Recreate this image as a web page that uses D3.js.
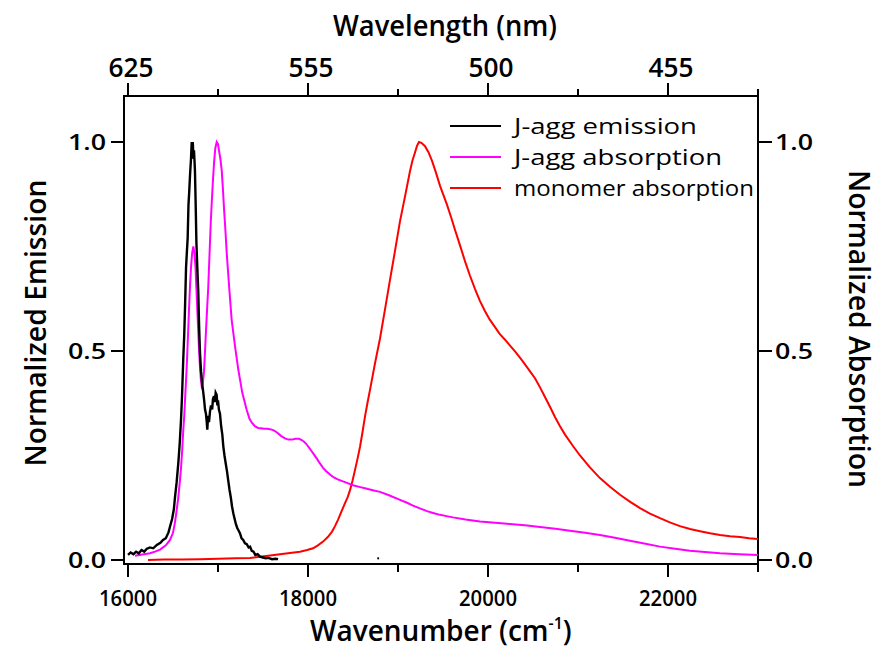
<!DOCTYPE html>
<html>
<head>
<meta charset="utf-8">
<script src="https://cdn.jsdelivr.net/npm/d3@7/dist/d3.min.js"></script>
<style>
  html, body { margin: 0; padding: 0; background: #fff; }
  svg { display: block; font-family: "Open Sans", "Noto Sans", sans-serif; font-weight: 600; }
</style>
</head>
<body>
<svg id="chart" width="878" height="649"></svg>
<script>
// ---------------- data ----------------
const emissionWn = [16000,16030,16060,16090,16120,16150,16180,16210,16244,16280,16320,16360,16389,16420,16450,16467,16490,16510,16522,16540,16559,16575,16589,16600,16614,16625,16633,16645,16655,16663,16672,16680,16689,16700,16708,16714,16720,16727,16733,16740,16744,16752,16760,16770,16781,16790,16800,16812,16825,16837,16847,16856,16866,16875,16881,16890,16900,16911,16922,16935,16944,16955,16965,16974,16985,16993,17000,17010,17022,17035,17048,17059,17072,17085,17100,17114,17128,17142,17156,17170,17185,17200,17215,17230,17244,17262,17280,17300,17320,17340,17356,17375,17395,17415,17440,17467,17500,17530,17560,17600,17640,17667];
const emissionVal = [0.012,0.018,0.014,0.020,0.016,0.024,0.020,0.027,0.030,0.028,0.036,0.041,0.048,0.052,0.066,0.080,0.098,0.122,0.150,0.185,0.232,0.280,0.335,0.390,0.480,0.540,0.600,0.700,0.740,0.770,0.850,0.880,0.920,0.960,1.000,0.985,1.000,0.960,0.980,0.950,0.930,0.850,0.760,0.700,0.640,0.560,0.495,0.450,0.420,0.400,0.380,0.360,0.350,0.330,0.312,0.345,0.330,0.355,0.370,0.360,0.385,0.392,0.378,0.400,0.395,0.370,0.382,0.360,0.350,0.320,0.300,0.272,0.250,0.232,0.212,0.190,0.168,0.150,0.128,0.112,0.098,0.085,0.076,0.070,0.064,0.052,0.048,0.040,0.038,0.030,0.032,0.022,0.020,0.012,0.014,0.008,0.006,0.004,0.005,0.002,0.003,0.002];
const strayWn  = [18770,18790];
const strayVal = [0.004,0.004];

const jaggAbsWn = [16078,16160,16244,16300,16356,16420,16467,16500,16522,16540,16559,16575,16589,16602,16614,16625,16633,16645,16656,16667,16678,16690,16700,16713,16726,16738,16750,16764,16778,16790,16800,16810,16819,16830,16844,16856,16867,16880,16892,16902,16911,16920,16930,16943,16956,16970,16986,17000,17011,17026,17041,17054,17067,17082,17097,17125,17152,17190,17226,17270,17319,17350,17378,17410,17444,17478,17511,17545,17578,17620,17656,17700,17744,17780,17822,17860,17900,17930,17956,17980,18003,18035,18067,18100,18133,18165,18200,18240,18278,18330,18389,18440,18500,18570,18644,18720,18800,18900,19022,19100,19167,19250,19322,19400,19467,19540,19611,19750,19911,20080,20244,20410,20578,20750,20911,21080,21244,21410,21578,21750,21911,22080,22244,22410,22578,22790,23000];
const jaggAbsVal = [0.010,0.013,0.016,0.020,0.025,0.035,0.048,0.065,0.090,0.118,0.150,0.185,0.220,0.262,0.310,0.345,0.380,0.430,0.480,0.540,0.600,0.660,0.700,0.735,0.750,0.735,0.700,0.630,0.560,0.500,0.460,0.430,0.415,0.420,0.450,0.500,0.550,0.605,0.654,0.710,0.760,0.810,0.853,0.905,0.950,0.985,1.000,0.995,0.980,0.960,0.933,0.890,0.840,0.790,0.734,0.650,0.574,0.510,0.455,0.400,0.359,0.338,0.328,0.320,0.316,0.315,0.314,0.314,0.313,0.310,0.305,0.297,0.291,0.288,0.288,0.290,0.290,0.287,0.283,0.278,0.271,0.262,0.252,0.242,0.231,0.221,0.213,0.205,0.199,0.193,0.188,0.184,0.179,0.175,0.171,0.167,0.163,0.155,0.144,0.137,0.130,0.123,0.117,0.112,0.108,0.105,0.102,0.097,0.092,0.089,0.086,0.083,0.079,0.075,0.070,0.065,0.060,0.053,0.046,0.039,0.032,0.027,0.022,0.019,0.016,0.014,0.012];

const monoAbsWn = [16222,16400,16600,16800,17000,17200,17356,17467,17580,17689,17800,17911,17990,18056,18110,18167,18220,18267,18300,18333,18370,18411,18440,18467,18495,18522,18550,18578,18605,18633,18660,18689,18744,18800,18856,18911,18967,19022,19078,19133,19160,19189,19210,19233,19260,19300,19340,19378,19420,19467,19505,19544,19590,19633,19690,19744,19800,19856,19910,19967,20020,20078,20130,20189,20245,20300,20355,20411,20465,20522,20578,20633,20690,20744,20800,20856,20940,21022,21130,21244,21355,21467,21580,21689,21800,21911,22020,22133,22245,22356,22467,22578,22690,22800,22900,23000];
const monoAbsVal = [0.000,0.001,0.001,0.002,0.003,0.004,0.005,0.008,0.011,0.014,0.017,0.020,0.024,0.028,0.035,0.044,0.055,0.068,0.081,0.096,0.115,0.136,0.150,0.167,0.190,0.215,0.242,0.271,0.305,0.343,0.375,0.407,0.470,0.530,0.600,0.670,0.740,0.810,0.870,0.930,0.955,0.975,0.990,1.000,0.998,0.990,0.975,0.955,0.928,0.895,0.873,0.850,0.820,0.790,0.752,0.715,0.680,0.648,0.620,0.595,0.575,0.557,0.541,0.527,0.513,0.499,0.484,0.468,0.452,0.435,0.413,0.390,0.366,0.342,0.320,0.300,0.274,0.250,0.222,0.196,0.175,0.156,0.139,0.124,0.111,0.100,0.090,0.081,0.074,0.069,0.064,0.060,0.057,0.055,0.052,0.050];

const bottomTicks = [16000, 18000, 20000, 22000];
const bottomMinorTicks = [17000, 19000, 21000, 23000];
const topTickLabels = ["625", "555", "500", "455"];
const yTicks = [0.0, 0.5, 1.0];

const seriesNames = ["J-agg emission", "J-agg absorption", "monomer absorption"];
const seriesColors = ["#000000", "#ff00ff", "#ff0000"];

// ---------------- layout ----------------
const svg = d3.select("#chart");
const L = 124, R = 758, T = 96, B = 564;

const x = d3.scaleLinear().domain([16000, 23000]).range([128, 758]);
const yL = d3.scaleLinear().domain([0, 1]).range([560, 142]);
const yR = d3.scaleLinear().domain([0, 1]).range([560, 142]);

const fontTick = 22, fontTop = 27, fontTitle = 28;

// frame
svg.append("rect").attr("x", L).attr("y", T).attr("width", R - L).attr("height", B - T)
  .attr("fill", "none").attr("stroke", "#000").attr("stroke-width", 2);

// bottom axis ticks
const gB = svg.append("g");
bottomTicks.forEach(v => {
  gB.append("line").attr("x1", x(v)).attr("x2", x(v)).attr("y1", B).attr("y2", B + 13)
    .attr("stroke", "#000").attr("stroke-width", 2);
  gB.append("text").attr("x", x(v)).attr("y", B + 42).attr("text-anchor", "middle")
    .attr("font-size", fontTick).attr("textLength", 58).attr("lengthAdjust", "spacingAndGlyphs")
    .text(d3.format("d")(v));
});
bottomMinorTicks.forEach(v => {
  gB.append("line").attr("x1", x(v)).attr("x2", x(v)).attr("y1", B).attr("y2", B + 8)
    .attr("stroke", "#000").attr("stroke-width", 2);
});
// top axis ticks (wavelength labels at the matching wavenumbers)
bottomTicks.forEach((v, i) => {
  gB.append("line").attr("x1", x(v)).attr("x2", x(v)).attr("y1", T).attr("y2", T - 13)
    .attr("stroke", "#000").attr("stroke-width", 2);
  gB.append("text").attr("x", x(v) + 3).attr("y", T - 19).attr("text-anchor", "middle")
    .attr("font-size", fontTop).attr("textLength", 45).attr("lengthAdjust", "spacingAndGlyphs")
    .text(topTickLabels[i]);
});
bottomMinorTicks.forEach(v => {
  gB.append("line").attr("x1", x(v)).attr("x2", x(v)).attr("y1", T).attr("y2", T - 7)
    .attr("stroke", "#000").attr("stroke-width", 2);
});

// left / right axes
yTicks.forEach(v => {
  svg.append("line").attr("x1", L).attr("x2", L - 13).attr("y1", yL(v)).attr("y2", yL(v))
    .attr("stroke", "#000").attr("stroke-width", 2);
  svg.append("text").attr("x", L - 6).attr("y", yL(v)).attr("dy", "0.36em")
    .attr("text-anchor", "end").attr("font-size", fontTick).attr("textLength", 38)
    .attr("lengthAdjust", "spacingAndGlyphs").attr("dx", -12).text(d3.format(".1f")(v));
  svg.append("line").attr("x1", R).attr("x2", R + 14).attr("y1", yR(v)).attr("y2", yR(v))
    .attr("stroke", "#000").attr("stroke-width", 2);
  svg.append("text").attr("x", R + 17).attr("y", yR(v)).attr("dy", "0.36em")
    .attr("text-anchor", "start").attr("font-size", fontTick).attr("textLength", 38)
    .attr("lengthAdjust", "spacingAndGlyphs").text(d3.format(".1f")(v));
});

// titles
svg.append("text").attr("x", 445).attr("y", 36).attr("text-anchor", "middle")
  .attr("font-size", fontTitle).attr("textLength", 224).attr("lengthAdjust", "spacingAndGlyphs")
  .text("Wavelength (nm)");
const xt = svg.append("text").attr("x", 310).attr("y", 641).attr("text-anchor", "start")
  .attr("font-size", fontTitle);
xt.append("tspan").text("Wavenumber (cm");
xt.append("tspan").attr("font-size", 16).attr("dy", -12).text("-1");
xt.append("tspan").attr("dy", 12).text(")");
svg.append("text").attr("transform", "translate(46,323) rotate(-90)").attr("text-anchor", "middle")
  .attr("font-size", fontTitle).attr("textLength", 287).attr("lengthAdjust", "spacingAndGlyphs")
  .text("Normalized Emission");
svg.append("text").attr("transform", "translate(849,329) rotate(90)").attr("text-anchor", "middle")
  .attr("font-size", fontTitle).attr("textLength", 318).attr("lengthAdjust", "spacingAndGlyphs")
  .text("Normalized Absorption");

// curves
const lineL = d3.line().x(d => x(d[0])).y(d => yL(d[1]));
const lineR = d3.line().x(d => x(d[0])).y(d => yR(d[1]));
const zip = (a, b) => a.map((v, i) => [v, b[i]]);

svg.append("path").datum(zip(monoAbsWn, monoAbsVal)).attr("d", lineR)
  .attr("fill", "none").attr("stroke", seriesColors[2]).attr("stroke-width", 2);
svg.append("path").datum(zip(jaggAbsWn, jaggAbsVal)).attr("d", lineR)
  .attr("fill", "none").attr("stroke", seriesColors[1]).attr("stroke-width", 2);
svg.append("path").datum(zip(emissionWn, emissionVal)).attr("d", lineL)
  .attr("fill", "none").attr("stroke", seriesColors[0]).attr("stroke-width", 2.4);
svg.append("path").datum(zip(strayWn, strayVal)).attr("d", lineL)
  .attr("fill", "none").attr("stroke", seriesColors[0]).attr("stroke-width", 2);

// legend
const legendWidths = [183, 208, 240];
seriesNames.forEach((n, i) => {
  const yy = 126 + i * 31;
  svg.append("line").attr("x1", 450).attr("x2", 501).attr("y1", yy).attr("y2", yy)
    .attr("stroke", seriesColors[i]).attr("stroke-width", 2);
  svg.append("text").attr("x", 514).attr("y", yy).attr("dy", "0.36em")
    .attr("font-size", 22).attr("font-weight", 500).attr("textLength", legendWidths[i])
    .attr("lengthAdjust", "spacingAndGlyphs").text(n);
});
</script>
</body>
</html>
